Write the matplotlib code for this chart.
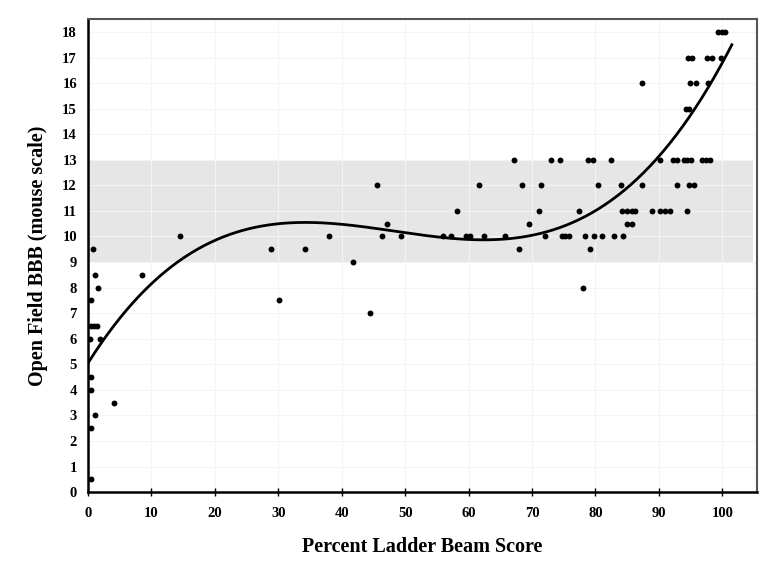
import numpy as np
import matplotlib
matplotlib.use("Agg")
import matplotlib.pyplot as plt

# scatter values, grouped by BBB score row
rows = {
    18: [99.3, 99.9, 100.5],
    17: [94.6, 95.3, 97.6, 98.4, 99.8],
    16: [87.3, 94.9, 95.9, 97.8],
    15: [94.2, 94.8],
    13: [67.1, 73.0, 74.4, 78.9, 79.6, 82.4, 90.2, 92.2, 92.8, 93.9, 94.5, 95.0, 96.8, 97.4, 98.0],
    12: [45.5, 61.7, 68.4, 71.4, 80.4, 84.0, 87.3, 92.8, 94.7, 95.5],
    11: [58.2, 71.1, 77.4, 84.2, 85.0, 85.8, 86.3, 88.9, 90.2, 91.0, 91.8, 94.5],
    10.5: [47.1, 69.6, 85.0, 85.8],
    10: [14.5, 38.0, 46.3, 49.4, 55.9, 57.2, 59.6, 60.3, 62.4, 65.8, 72.1, 74.7, 75.2, 75.8,
         78.4, 79.7, 81.0, 82.9, 84.3],
    9.5: [0.8, 28.8, 34.2, 68.0, 79.2],
    9: [41.7],
    8.5: [1.1, 8.5],
    8: [1.6, 78.1],
    7.5: [0.5, 30.1],
    7: [44.5],
    6.5: [0.4, 0.9, 1.4],
    6: [0.3, 1.9],
    4.5: [0.5],
    4: [0.5],
    3.5: [4.1],
    3: [1.15],
    2.5: [0.5],
    0.5: [0.5],
}
ladder_score = [x for y, xs in rows.items() for x in xs]
bbb_score = [y for y, xs in rows.items() for x in xs]

# cubic fit coefficients (highest power first)
fit_coeffs = [6.131e-5, -0.008887, 0.39305, 5.05]
fit_range = (0, 101.5)

normal_band = (9, 13)

x_ticks = list(range(0, 101, 10))
y_ticks = list(range(0, 19))

font = "Liberation Serif"

fig = plt.figure(figsize=(7.79, 5.65), dpi=100)
ax = fig.add_axes([0.113, 0.129, 0.859, 0.837])

ax.axhspan(normal_band[0], normal_band[1], xmin=0, xmax=0.994, color="#e6e6e6", lw=0, zorder=0)

ax.set_axisbelow(True)
ax.grid(True, color="#f4f4f4", lw=0.8)

xs = np.linspace(fit_range[0], fit_range[1], 300)
ax.plot(xs, np.polyval(fit_coeffs, xs), color="black", lw=2.0, zorder=3)

ax.scatter(ladder_score, bbb_score, s=18, color="black", lw=0, zorder=4)

ax.set_xlim(0, 105.5)
ax.set_ylim(0, 18.5)
ax.set_xticks(x_ticks)
ax.set_yticks(y_ticks)
ax.tick_params(axis="x", direction="inout", length=6, width=1, pad=8)
ax.tick_params(axis="y", direction="in", length=0, pad=8)
for lab in ax.get_xticklabels() + ax.get_yticklabels():
    lab.set_fontfamily(font)
    lab.set_fontweight("bold")
    lab.set_fontsize(10.5)

for side in ["left", "bottom"]:
    ax.spines[side].set_linewidth(1.8)
    ax.spines[side].set_color("black")
for side in ["top", "right"]:
    ax.spines[side].set_linewidth(1.5)
    ax.spines[side].set_color("#555555")

ax.set_xlabel("Percent Ladder Beam Score", fontfamily=font, fontweight="bold",
              fontsize=14.5, labelpad=12)
ax.set_ylabel("Open Field BBB (mouse scale)", fontfamily=font, fontweight="bold",
              fontsize=14.5, labelpad=10)

fig.savefig("out.png", dpi=100)
